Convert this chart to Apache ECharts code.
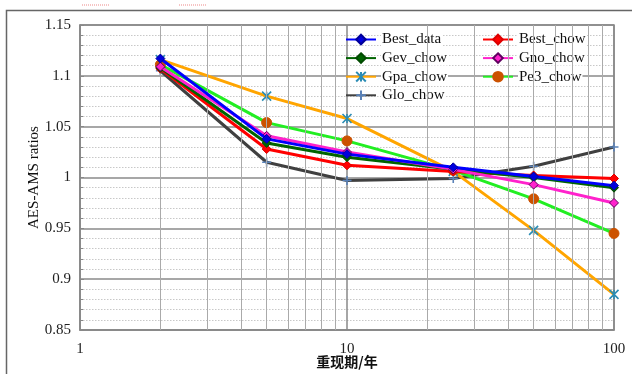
<!DOCTYPE html>
<html>
<head>
<meta charset="utf-8">
<script src="https://cdn.jsdelivr.net/npm/echarts@6/dist/echarts.min.js"></script>
<style>html,body{margin:0;padding:0;background:#fff;}#c{width:632px;height:374px;}</style>
</head>
<body>
<div id="c"></div>
<script>
var periods = [2, 5, 10, 25, 50, 100];
var bestData = [1.117, 1.038, 1.023, 1.010, 1.001, 0.992];
var bestChow = [1.107, 1.028, 1.012, 1.006, 1.002, 0.999];
var gevChow  = [1.108, 1.034, 1.020, 1.008, 1.000, 0.990];
var gnoChow  = [1.109, 1.041, 1.025, 1.008, 0.993, 0.975];
var gpaChow  = [1.116, 1.080, 1.058, 1.006, 0.948, 0.885];
var pe3Chow  = [1.111, 1.054, 1.036, 1.007, 0.979, 0.945];
var gloChow  = [1.105, 1.015, 0.997, 0.999, 1.011, 1.030];
var minorX = [2,3,4,5,6,7,8,9,20,30,40,50,60,70,80,90];
var xTicks = [1, 10, 100];

function pairs(v){ return periods.map(function(p,i){ return [p, v[i]]; }); }

var serif = 'Liberation Serif';
var chart = echarts.init(document.getElementById('c'), null, {renderer:'canvas'});

function mk(name, data, lineColor, symbol, symColor, symBorder, size, z){
  return {
    name: name, type: 'line', data: pairs(data), z: z,
    symbol: symbol, symbolSize: size, showSymbol: true,
    lineStyle: {color: lineColor, width: 3},
    itemStyle: {color: symColor, borderColor: symBorder, borderWidth: 1},
    emphasis: {disabled: true}, animation: false
  };
}
var starPath = 'path://M0,0L10,10M10,0L0,10M5,0L5,10';
var plusPath = 'path://M5,0L5,10M0,5L10,5';

var series = [
  mk('Glo_chow', gloChow, '#404040', plusPath, '#5a82b8', '#5a82b8', 9, 2),
  mk('Gpa_chow', gpaChow, '#ffa500', starPath, '#2a8cb4', '#2a8cb4', 9, 3),
  mk('Pe3_chow', pe3Chow, '#22ee22', 'circle', '#cc5200', '#cc5200', 10, 4),
  mk('Best_chow', bestChow, '#ff0000', 'diamond', '#ff0000', '#dd0000', 9, 5),
  mk('Gev_chow', gevChow, '#006400', 'diamond', '#006400', '#004a00', 9, 6),
  mk('Gno_chow', gnoChow, '#ff22cc', 'diamond', '#ff22cc', '#600060', 9, 7),
  mk('Best_data', bestData, '#0000ff', 'diamond', '#0000dd', '#000099', 9, 8)
];
series.forEach(function(s){
  if (s.symbol.indexOf('path') === 0) { s.itemStyle.borderWidth = 1.6; }
});
series.push({
  type: 'line', data: [], silent: true, z: 1,
  markLine: {
    silent: true, symbol: ['none','none'], animation: false,
    label: {show: false},
    lineStyle: {color: '#aaaaaa', width: 1, type: 'solid'},
    data: minorX.map(function(v){ return {xAxis: v}; })
  }
});

var legendText = {fontFamily: serif, fontSize: 15, color: '#111', backgroundColor: '#fff', padding: [0, 1]};
chart.setOption({
  animation: false,
  backgroundColor: '#fff',
  grid: {left: 80, right: 18, top: 25, bottom: 44, show: true, borderColor: '#888', borderWidth: 1.5,
         backgroundColor: 'transparent', containLabel: false, outerBoundsMode: 'none'},
  legend: [
    {data: ['Best_data','Gev_chow','Gpa_chow','Glo_chow'], orient: 'vertical', left: 345, top: 32, padding: 0,
     itemWidth: 30, itemHeight: 12, itemGap: 3.6, textStyle: legendText, selectedMode: false},
    {data: ['Best_chow','Gno_chow','Pe3_chow'], orient: 'vertical', left: 482, top: 32, padding: 0,
     itemWidth: 30, itemHeight: 12, itemGap: 3.6, textStyle: legendText, selectedMode: false}
  ],
  xAxis: {
    type: 'log', logBase: 10, min: 1, max: 100,
    name: '重现期/年', nameLocation: 'middle', nameGap: 25, nameMoveOverlap: false,
    nameTextStyle: {fontFamily: 'Noto Sans CJK SC', fontSize: 14, color: '#111', fontWeight: 'bold'},
    axisLine: {show: true, lineStyle: {color: '#888', width: 1.5}},
    axisTick: {show: false},
    axisLabel: {fontFamily: serif, fontSize: 15, color: '#222', margin: 12,
      formatter: function(v){ return xTicks.indexOf(Math.round(v)) >= 0 ? String(Math.round(v)) : ''; }},
    splitLine: {show: true, lineStyle: {color: '#888', width: 1.5}},
    minorTick: {show: false}, minorSplitLine: {show: false}
  },
  yAxis: {
    type: 'value', min: 0.85, max: 1.15, interval: 0.05,
    name: 'AES-AMS ratios', nameLocation: 'middle', nameGap: 38, nameMoveOverlap: false,
    nameTextStyle: {fontFamily: serif, fontSize: 15, color: '#111'},
    axisLine: {show: true, lineStyle: {color: '#888', width: 1.5}},
    axisTick: {show: true, inside: true, length: 4, lineStyle: {color: '#888'}},
    minorTick: {show: true, splitNumber: 5, length: 3, lineStyle: {color: '#888'}},
    axisLabel: {fontFamily: serif, fontSize: 15, color: '#222', margin: 9},
    splitLine: {show: true, lineStyle: {color: '#8a8a8a', width: 1.5}},
    minorSplitLine: {show: true, lineStyle: {color: '#c8c8c8', width: 1, type: [1.5, 1.5]}}
  },
  graphic: [
    {type: 'rect', silent: true, shape: {x: 6.5, y: 10.5, width: 640, height: 420},
     style: {fill: 'none', stroke: '#666', lineWidth: 1.5}},
    {type: 'line', silent: true, shape: {x1: 82, y1: 5, x2: 110, y2: 5},
     style: {stroke: '#e88', lineWidth: 1, lineDash: [1, 1]}},
    {type: 'line', silent: true, shape: {x1: 179, y1: 5, x2: 207, y2: 5},
     style: {stroke: '#e88', lineWidth: 1, lineDash: [1, 1]}}
  ],
  series: series
});
</script>
</body>
</html>
